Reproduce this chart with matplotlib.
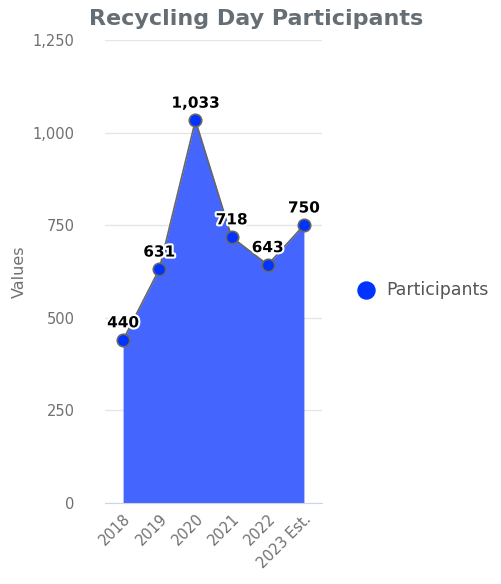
import matplotlib
matplotlib.use("Agg")
import matplotlib.pyplot as plt
import matplotlib.patheffects as pe
from matplotlib.ticker import FuncFormatter

years = ["2018", "2019", "2020", "2021", "2022", "2023 Est."]
participants = [440, 631, 1033, 718, 643, 750]
y_ticks = [0, 250, 500, 750, 1000, 1250]

plt.rcParams['font.family'] = ['DejaVu Sans']

fig = plt.figure(figsize=(5.01, 5.84), dpi=100)
ax = fig.add_axes([0.2096, 0.1387, 0.4331, 0.7928])

x = list(range(len(years)))
ax.fill_between(x, participants, 0, color='#4466ff', linewidth=0, zorder=2)
ax.plot(x, participants, color='#666666', linewidth=1.2, zorder=3)
ax.scatter(x, participants, s=80, color='#0033ff', edgecolor='#666666', linewidth=1.2, zorder=4)

for xi, v in zip(x, participants):
    ax.annotate(f"{v:,}", (xi, v), xytext=(0, 7), textcoords='offset points',
                ha='center', va='bottom', fontsize=11, fontweight='bold', color='black',
                path_effects=[pe.withStroke(linewidth=3, foreground='white')], zorder=5)

ax.set_xlim(-0.5, len(years) - 0.5)
ax.set_ylim(0, 1250)
ax.set_yticks(y_ticks)
ax.yaxis.set_major_formatter(FuncFormatter(lambda v, p: f"{int(v):,}"))
ax.set_xticks(x)
ax.set_xticklabels(years, rotation=45, ha='right', rotation_mode='anchor')
ax.grid(axis='y', color='#e6e6e6', linewidth=1, zorder=0)
for s in ['top', 'right', 'left']:
    ax.spines[s].set_visible(False)
ax.spines['bottom'].set_color('#ccd6eb')
ax.tick_params(axis='y', length=0, labelsize=10.5, labelcolor='#707070', pad=22)
ax.tick_params(axis='x', length=0, labelsize=10.5, labelcolor='#707070', pad=6)

ax.set_ylabel("Values", fontsize=11.5, color='#707070', labelpad=4)

fig.text(0.511, 0.968, "Recycling Day Participants", ha='center', va='center',
         fontsize=16, fontweight='bold', color='#666e75')

ax.scatter([], [], s=150, color='#0033ff', label='Participants')
leg = ax.legend(loc='center left', bbox_to_anchor=(1.05, 0.46), frameon=False,
                fontsize=12.5, handletextpad=0.15, markerscale=1)
for t in leg.get_texts():
    t.set_color('#555555')

fig.savefig("out.png", dpi=100)
